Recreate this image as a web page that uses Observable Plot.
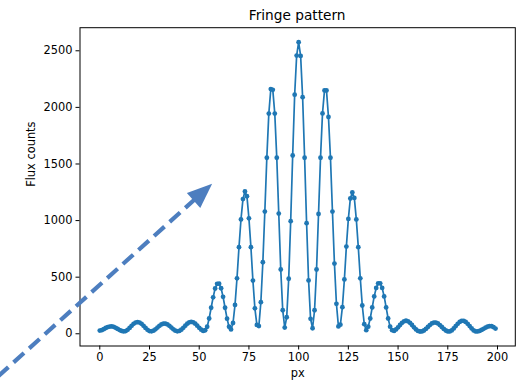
<!DOCTYPE html>
<html>
<head>
<meta charset="utf-8">
<script src="https://cdn.jsdelivr.net/npm/d3@7"></script>
<script src="https://cdn.jsdelivr.net/npm/@observablehq/plot@0.6"></script>
<style>
  html, body { margin: 0; padding: 0; background: white; }
  #wrap { position: relative; width: 526px; height: 383px; overflow: hidden; }
  #title { position: absolute; left: 79.5px; width: 435.3px; top: 0; height: 26px; line-height: 30px;
           text-align: center; font-family: "DejaVu Sans", sans-serif; font-size: 13.7px; color: black; }
  #chart { position: absolute; left: 0; top: 26px; }
</style>
</head>
<body>
<div id="wrap">
  <div id="title">Fringe pattern</div>
  <div id="chart"></div>
</div>
<script>
// Flux counts, one per pixel (px = 0 … 199)
const flux = [
  28, 32, 41, 51, 59, 64, 65, 61, 53, 43,
  33, 25, 21, 24, 35, 52, 70, 88, 99, 103,
  99, 88, 70, 52, 35, 24, 22, 27, 39, 55,
  70, 83, 89, 89, 83, 70, 55, 39, 27, 22,
  25, 36, 53, 72, 89, 101, 105, 101, 89, 72,
  53, 36, 25, 31, 62, 135, 230, 322, 400, 441,
  443, 402, 326, 230, 133, 62, 38, 95, 255, 490,
  765, 1010, 1190, 1258, 1215, 1020, 765, 470, 225, 78,
  68, 279, 632, 1080, 1555, 1945, 2162, 2155, 1945, 1555,
  1062, 568, 208, 55, 146, 486, 995, 1575, 2112, 2458,
  2576, 2455, 2090, 1555, 977, 471, 132, 49, 208, 568,
  1058, 1555, 1947, 2150, 2150, 1915, 1555, 1080, 620, 265,
  65, 80, 235, 480, 770, 1015, 1195, 1248, 1200, 1010,
  765, 490, 250, 85, 32, 63, 135, 233, 330, 405,
  446, 446, 405, 330, 233, 135, 63, 32, 25, 38,
  57, 78, 97, 110, 115, 110, 97, 78, 57, 38,
  25, 20, 21, 29, 43, 60, 77, 91, 99, 99,
  91, 77, 60, 43, 29, 21, 21, 30, 47, 68,
  88, 105, 114, 114, 105, 88, 68, 47, 30, 21,
  21, 25, 34, 44, 54, 63, 67, 67, 58, 46
];
const px = flux.map((_, i) => i);

const xTicks = [0, 25, 50, 75, 100, 125, 150, 175, 200];
const yTicks = [0, 500, 1000, 1500, 2000, 2500];

const xLabel = "px";
const yLabel = "Flux counts";

// dashed annotation arrow (data units): tail, end of shaft, tip
const arrowTail = [-66.9, -625];
const arrowShaftEnd = [49.0, 1207];
const arrowTip = [56.5, 1325];

const data = px.map((p, i) => ({px: p, flux: flux[i]}));

const lineColor = "#1f77b4";
const arrowColor = "#4d7ebf";

const headAngle = 48 * Math.PI / 180;
const headSymbol = {
  draw(ctx) {
    const pts = [[0, 0], [-10, 25], [10, 25]].map(([x, y]) => [
      x * Math.cos(headAngle) - y * Math.sin(headAngle),
      x * Math.sin(headAngle) + y * Math.cos(headAngle)
    ]);
    ctx.moveTo(pts[0][0], pts[0][1]);
    ctx.lineTo(pts[1][0], pts[1][1]);
    ctx.lineTo(pts[2][0], pts[2][1]);
    ctx.closePath();
  }
};

const chart = Plot.plot({
  width: 526,
  height: 357,
  marginLeft: 79.5,
  marginRight: 11.2,
  marginTop: 1.2,
  marginBottom: 37.5,
  style: {fontFamily: "DejaVu Sans, sans-serif", fontSize: "11.4px", color: "black", background: "white", overflow: "hidden"},
  x: {domain: [-9.95, 208.95], ticks: xTicks, tickSize: 4, tickPadding: 3, label: null, tickFormat: d => String(d)},
  y: {domain: [-108, 2704], ticks: yTicks, tickSize: 4, tickPadding: 3.5, label: null, tickFormat: d => String(d)},
  marks: [
    Plot.frame({stroke: "black", strokeWidth: 1}),
    Plot.line(data, {x: "px", y: "flux", stroke: lineColor, strokeWidth: 1.7}),
    Plot.dot(data, {x: "px", y: "flux", fill: lineColor, stroke: "none", r: 2.4}),
    Plot.link([{x1: arrowTail[0], y1: arrowTail[1], x2: arrowShaftEnd[0], y2: arrowShaftEnd[1]}],
      {x1: "x1", y1: "y1", x2: "x2", y2: "y2", stroke: arrowColor, strokeWidth: 4.2, strokeDasharray: "14,7", strokeLinecap: "butt"}),
    Plot.dot([{x: arrowTip[0], y: arrowTip[1]}], {x: "x", y: "y", symbol: headSymbol, fill: arrowColor, stroke: "none", r: 10}),
    Plot.text([xLabel], {text: d => d, frameAnchor: "bottom", dy: 30.5, fontSize: 11.4, fill: "black"}),
    Plot.text([yLabel], {text: d => d, frameAnchor: "left", rotate: -90, dx: -48.5, fontSize: 11.4, fill: "black"})
  ]
});
document.getElementById("chart").appendChild(chart);
</script>
</body>
</html>
